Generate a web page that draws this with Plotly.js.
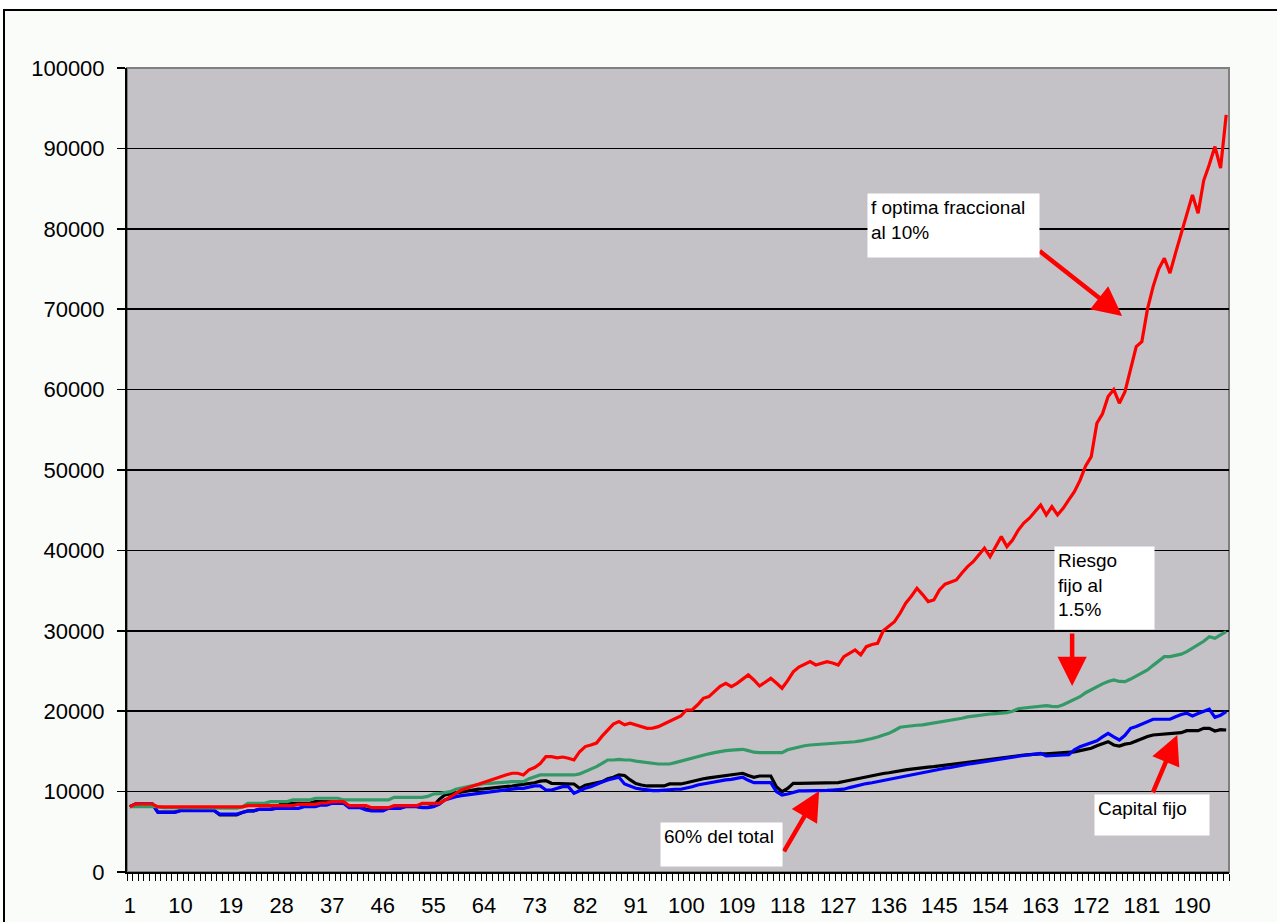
<!DOCTYPE html>
<html>
<head>
<meta charset="utf-8">
<script src="https://cdn.plot.ly/plotly-3.0.1.min.js"></script>
<style>
  html, body { margin:0; padding:0; background:#ffffff; overflow:hidden; width:1277px; height:922px; }
  #frame { position:absolute; left:3px; top:9px; width:1300px; height:1000px; border:2px solid #000; background:#fafcfa; }
  #chart { position:absolute; left:0; top:0; width:1277px; height:922px; }
</style>
</head>
<body>
<div id="frame"></div>
<div id="chart"></div>
<script>
// Series values, one per category (categories 1..196)
const fOptimaFraccional = [
8120,8450,8460,8460,8460,8100,8100,8100,8100,8100,
8100,8100,8100,8100,8100,8100,8100,8100,8100,8100,
8100,8250,8250,8250,8250,8250,8250,8250,8250,8250,
8420,8420,8420,8420,8580,8580,8750,8750,8750,8250,
8250,8250,8250,8000,8000,8000,8000,8250,8250,8250,
8250,8250,8540,8540,8540,8540,8900,9370,9800,10200,
10450,10700,10950,11150,11400,11650,11860,12100,12280,12280,
12070,12700,13000,13500,14340,14340,14200,14300,14140,13930,
14960,15600,15800,16040,16900,17660,18400,18700,18300,18500,
18300,18080,17870,17900,18080,18400,18700,19100,19400,20150,
20150,20800,21600,21810,22400,23100,23470,23050,23470,24000,
24510,23880,23130,23600,24090,23500,22850,23800,24900,25500,
25800,26160,25750,26000,26160,26000,25750,26780,27200,27620,
27000,28030,28300,28450,30000,30520,31140,32180,33430,34300,
35290,34500,33630,33840,35080,35800,36110,36320,37200,37980,
38600,39500,40270,39220,40500,41710,40470,41300,42500,43400,
44000,44800,45650,44410,45440,44410,45240,46280,47300,48700,
50500,51670,55820,57000,59140,60000,58310,59750,62500,65350,
65970,70000,72810,75000,76340,74480,77000,79500,82000,84220,
81940,86000,88000,90230,87540,94170
];
const riesgoFijo = [
8120,8120,8120,8120,8120,8120,8000,8000,8000,8000,
8000,8000,8000,8000,8000,8000,7950,7950,7950,7950,
8100,8540,8540,8540,8540,8750,8750,8750,8750,8960,
8960,8960,8960,9170,9170,9170,9170,9170,8960,8960,
8960,8960,8960,8960,8960,8960,8960,9290,9290,9290,
9290,9290,9290,9400,9700,9750,9850,9990,10300,10500,
10600,10750,10900,11000,11030,11100,11150,11200,11240,11240,
11240,11600,11800,12070,12070,12070,12070,12070,12070,12070,
12200,12480,12800,13100,13500,13930,13930,14000,13930,13930,
13800,13700,13600,13430,13430,13430,13430,13600,13800,14000,
14140,14300,14500,14700,14840,15000,15100,15150,15200,15260,
15100,14900,14840,14840,14840,14800,14840,15200,15400,15600,
15700,15800,15850,15900,15950,16000,16000,16010,16100,16200,
16300,16420,16600,16800,17000,17250,17600,18000,18100,18200,
18250,18290,18400,18600,18700,18800,18900,19000,19120,19300,
19400,19500,19600,19650,19700,19750,19820,20000,20300,20400,
20500,20600,20650,20700,20600,20560,20800,21100,21400,21800,
22300,22700,23000,23400,23700,23880,23700,23670,24000,24400,
24800,25130,25700,26300,26780,26800,26900,27100,27400,27800,
28300,28700,29270,29070,29500,29900
];
const sesentaPorCiento = [
8120,8450,8450,8450,8450,7420,7420,7420,7420,7630,
7630,7630,7630,7630,7630,7630,7210,7210,7210,7210,
7400,7590,7590,7800,7800,7800,7920,7920,7920,7920,
7920,8120,8120,8120,8330,8330,8540,8540,8540,8000,
8000,8000,7710,7590,7590,7590,7920,7920,7920,8120,
8120,8120,8000,8000,8120,8400,8960,9200,9370,9500,
9600,9700,9800,9900,9990,10100,10200,10290,10410,10410,
10410,10550,10700,10700,10200,10200,10400,10610,10610,9790,
10100,10410,10600,10950,11200,11450,11600,11780,10950,10700,
10410,10300,10200,10120,10120,10200,10290,10290,10290,10400,
10600,10820,10950,11100,11250,11360,11450,11530,11650,11780,
11400,11110,11110,11110,11110,9990,9580,9700,9900,10080,
10100,10100,10100,10150,10150,10200,10200,10300,10500,10700,
10850,11000,11100,11240,11400,11550,11700,11850,11950,12070,
12200,12350,12500,12600,12750,12900,13000,13150,13250,13400,
13500,13600,13720,13850,13950,14050,14150,14270,14400,14500,
14650,14760,14760,14430,14500,14500,14550,14600,15200,15590,
15850,16100,16330,16800,17250,16800,16420,17000,17870,18100,
18400,18700,19000,19000,19000,19000,19300,19600,19740,19410,
19700,19950,20240,19240,19500,19940
];
const capitalFijo = [
8120,8450,8450,8450,8450,7450,7450,7450,7450,7650,
7650,7650,7650,7650,7650,7650,7100,7100,7100,7100,
7400,7600,7600,7800,7800,7800,7950,8540,8540,8540,
8540,8540,8540,8750,8750,8750,8750,8700,8700,8100,
8100,8100,7800,7700,7700,7700,7950,7950,7950,8150,
8150,8150,8050,8050,8200,9000,9580,9700,9850,10000,
10100,10200,10300,10350,10400,10450,10550,10610,10700,10800,
10900,10950,11100,11300,11360,11030,11000,11000,11000,10950,
10410,10800,10950,11100,11240,11600,11780,12070,12000,11450,
11000,10820,10700,10700,10700,10700,10950,10950,10950,11100,
11300,11450,11600,11700,11800,11940,12000,12100,12200,12280,
12000,11780,11940,11940,11940,10610,9990,10400,11030,11030,
11030,11050,11050,11080,11080,11100,11110,11250,11400,11550,
11700,11860,12000,12100,12250,12350,12500,12600,12700,12800,
12900,12950,13050,13100,13190,13300,13400,13500,13600,13700,
13780,13850,13950,14050,14150,14250,14340,14400,14450,14550,
14600,14680,14700,14700,14750,14750,14800,14840,14950,15100,
15250,15390,15700,16000,16210,15800,15670,15900,16010,16300,
16600,16850,17040,17100,17150,17200,17300,17330,17580,17580,
17580,17870,17870,17540,17700,17660
];
const yTickVals = [0,10000,20000,30000,40000,50000,60000,70000,80000,90000,100000];
const yTickText = ["0","10000","20000","30000","40000","50000","60000","70000","80000","90000","100000"];
const annotationTexts = ["f optima fraccional<br>al 10%", "Riesgo<br>fijo al<br>1.5%", "60% del total", "Capital fijo"];

const categories = fOptimaFraccional.map((_, i) => i + 1);
const FONT = "Liberation Sans, Arial, sans-serif";

function tr(y, color, name) {
  return { x: categories, y: y, type: 'scatter', mode: 'lines', name: name,
           line: { color: color, width: 3.2, shape: 'linear' }, hoverinfo: 'skip' };
}
const data = [
  tr(capitalFijo, '#000000', 'Capital fijo'),
  tr(sesentaPorCiento, '#0000ff', '60% del total'),
  tr(riesgoFijo, '#339966', 'Riesgo fijo al 1.5%'),
  tr(fOptimaFraccional, '#ff0000', 'f optima fraccional al 10%')
];

function box(text, x, y, w, h) {
  return { text: text, x: x, y: y, xref: 'x', yref: 'y', xanchor: 'left', yanchor: 'top',
           showarrow: false, align: 'left', valign: 'top', width: w, height: h,
           bgcolor: '#ffffff', borderpad: 3, font: { family: FONT, size: 19, color: '#000' } };
}
function arrow(x, y, ax, ay) {
  return { text: '', x: x, y: y, xref: 'x', yref: 'y', ax: ax, ay: ay, showarrow: true,
           arrowhead: 2, arrowsize: 1.3, arrowwidth: 4.5, arrowcolor: '#ff0000', standoff: 0, startstandoff: 0 };
}

const layout = {
  width: 1277, height: 922,
  margin: { l: 127, r: 48, t: 68, b: 50, pad: 0 },
  paper_bgcolor: 'rgba(0,0,0,0)',
  plot_bgcolor: '#c4c2c7',
  showlegend: false,
  font: { family: FONT, size: 22, color: '#000' },
  xaxis: {
    type: 'linear', range: [0.5, 196.5], tickmode: 'linear', tick0: 1, dtick: 9,
    ticks: 'outside', ticklen: 7, tickcolor: 'rgba(0,0,0,0)', ticklabelstandoff: 6,
    showgrid: false, zeroline: false, showline: true, linecolor: '#000', linewidth: 2,
    tickfont: { family: FONT, size: 22, color: '#000' },
    minor: { tickmode: 'linear', tick0: 0.5, dtick: 1, ticks: 'outside', ticklen: 7, tickcolor: '#000', tickwidth: 1, showgrid: false }
  },
  yaxis: {
    range: [0, 100000], tickmode: 'array', tickvals: yTickVals, ticktext: yTickText,
    ticks: 'outside', ticklen: 8, tickcolor: '#000', tickwidth: 1.5, ticklabelstandoff: 8,
    showgrid: true, gridcolor: '#000', gridwidth: 1.5, zeroline: false,
    showline: true, linecolor: '#000', linewidth: 2,
    tickfont: { family: FONT, size: 22, color: '#000' }
  },
  shapes: [
    { type: 'rect', xref: 'paper', yref: 'paper', x0: 0, x1: 1, y0: 0, y1: 1,
      line: { color: '#808080', width: 2 }, fillcolor: 'rgba(0,0,0,0)', layer: 'between' }
  ],
  annotations: [
    arrow(177.5, 69166, -84, -66),
    arrow(168.6, 23138, 0, -54),
    arrow(123.6, 10076, -36, 62),
    arrow(187.3, 17043, -25, 59),
    box(annotationTexts[0], 132.2, 84468, 165, 57),
    box(annotationTexts[1], 165.3, 40554, 93, 76),
    box(annotationTexts[2], 95.3, 6220, 115, 37),
    box(annotationTexts[3], 172.4, 9703, 108, 34)
  ]
};

Plotly.newPlot('chart', data, layout, { staticPlot: true, displayModeBar: false });
</script>
</body>
</html>
